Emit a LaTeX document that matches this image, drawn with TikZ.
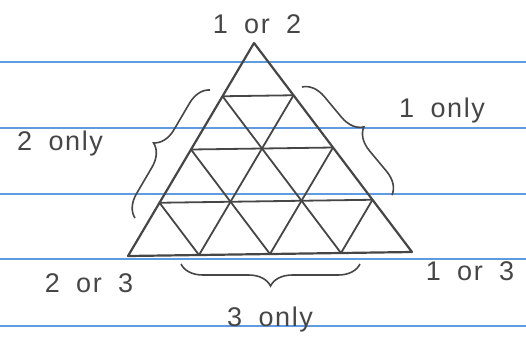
\documentclass[tikz,border=0pt]{standalone}
\usepackage{fontspec}
\newfontfamily\hand{Liberation Sans}[LetterSpace=6, WordSpace=1.8]
\usetikzlibrary{calc,decorations.pathreplacing}
\definecolor{pencil}{RGB}{70,70,70}
\definecolor{paperline}{RGB}{95,155,225}

\begin{document}
\begin{tikzpicture}[
    x=1pt, y=-1pt,
    ruled/.style={draw=paperline, line width=1.2pt},
    edge/.style={draw=pencil, line width=2.2pt, line join=round},
    mesh/.style={draw=pencil, line width=1.8pt},
    curly/.style={draw=pencil, line width=1.6pt, decorate, decoration={brace, amplitude=22pt}},
    tag/.style={text=pencil, font=\hand\fontsize{27}{30}\selectfont, anchor=base, inner sep=0pt}
  ]
  \useasboundingbox (0,0) rectangle (526,341);
  % paper rules
  \draw[ruled] (0,62) -- (526,62) (0,128) -- (526,128) (0,194) -- (526,194)
    (0,259) -- (526,259) (0,326) -- (526,326);

  % corners of the triangle
  \coordinate (top) at (254,43);
  \coordinate (bl) at (128,256);
  \coordinate (br) at (412,252);
  \coordinate (l1) at ($(top)!0.25!(bl)$);
  \coordinate (l2) at ($(top)!0.5!(bl)$);
  \coordinate (l3) at ($(top)!0.75!(bl)$);
  \coordinate (r1) at ($(top)!0.25!(br)$);
  \coordinate (r2) at ($(top)!0.5!(br)$);
  \coordinate (r3) at ($(top)!0.75!(br)$);
  \coordinate (b1) at ($(bl)!0.25!(br)$);
  \coordinate (b2) at ($(bl)!0.5!(br)$);
  \coordinate (b3) at ($(bl)!0.75!(br)$);

  \draw[edge] (top) -- (bl) -- (br) -- cycle;
  \draw[mesh] (l1) -- (r1);
  \draw[mesh] (l2) -- (r2);
  \draw[mesh] (l3) -- (r3);
  \draw[mesh] (l1) -- (b3);
  \draw[mesh] (l2) -- (b2);
  \draw[mesh] (l3) -- (b1);
  \draw[mesh] (r1) -- (b1);
  \draw[mesh] (r2) -- (b2);
  \draw[mesh] (r3) -- (b3);

  % braces
  \coordinate (lbrace a) at (135,218);
  \coordinate (lbrace b) at (210,90);
  \coordinate (rbrace a) at (302,87);
  \coordinate (rbrace b) at (392,195);
  \coordinate (bbrace a) at (360,264);
  \coordinate (bbrace b) at (181,264);
  \draw[curly] (lbrace a) -- (lbrace b);
  \draw[curly] (rbrace a) -- (rbrace b);
  \draw[curly] (bbrace a) -- (bbrace b);

  % labels
  \node[tag] (onetwo) at (257,33) {1 or 2};
  \node[tag] (oneonly) at (442,117) {1 only};
  \node[tag] (twoonly) at (60,150) {2 only};
  \node[tag] (twothree) at (89,292) {2 or 3};
  \node[tag] (onethree) at (470,280) {1 or 3};
  \node[tag] (threeonly) at (270,326) {3 only};
\end{tikzpicture}
\end{document}
